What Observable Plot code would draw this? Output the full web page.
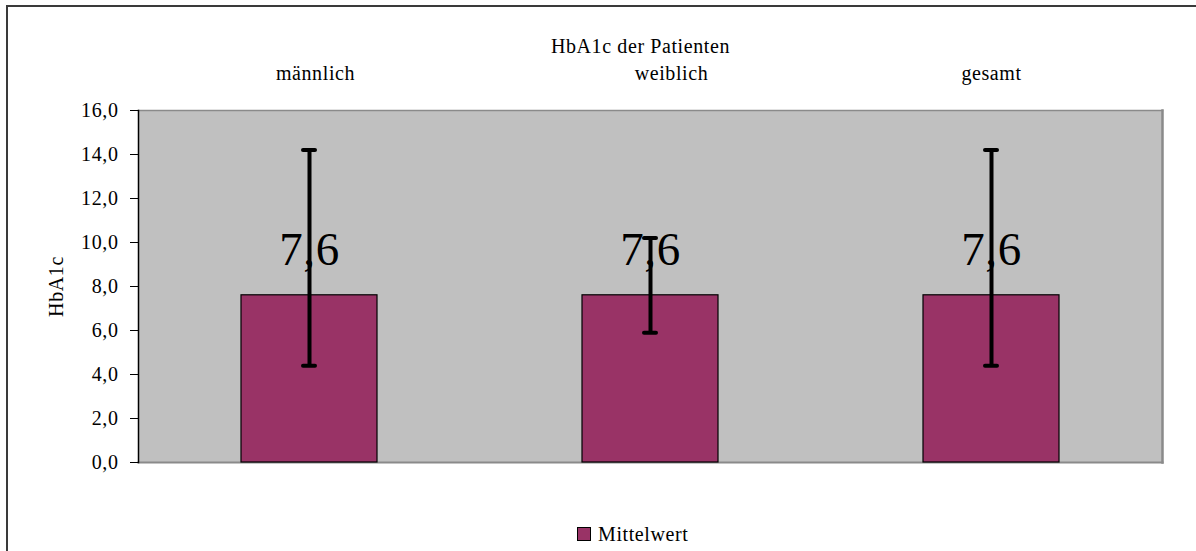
<!DOCTYPE html>
<html><head><meta charset="utf-8">
<script src="https://cdn.jsdelivr.net/npm/d3@7"></script>
<script src="https://cdn.jsdelivr.net/npm/@observablehq/plot@0.6"></script>
<style>
html,body{margin:0;padding:0;background:#fff;}
#wrap{position:relative;width:1196px;height:551px;overflow:hidden;font-family:"Liberation Serif",serif;}
#border{position:absolute;left:6px;top:5px;width:1400px;height:800px;border:2px solid #3a3a3a;box-sizing:border-box;}
#chart{position:absolute;left:0;top:0;}
#legend-sw{position:absolute;left:577px;top:527px;width:12px;height:12px;background:#993366;border:1px solid #000;}
#legend-tx{position:absolute;left:598px;top:524px;font-size:20px;line-height:20px;letter-spacing:0.6px;color:#000;white-space:nowrap;}
</style></head>
<body>
<div id="wrap">
  <div id="border"></div>
  <div id="chart"></div>
  <div id="legend-sw"></div>
  <div id="legend-tx"></div>
</div>
<script>
const categories = ["männlich", "weiblich", "gesamt"];
const means = [7.6, 7.6, 7.6];
const lower = [4.4, 5.9, 4.4];
const upper = [14.2, 10.2, 14.2];
const yTicks = [0, 2, 4, 6, 8, 10, 12, 14, 16];
const chartTitle = "HbA1c der Patienten";
const yLabel = "HbA1c";
const seriesName = "Mittelwert";

// layout: small horizontal nudges of the top category labels (pixels)
const layout = {catLabelNudge: [6, 21, 0]};

const data = categories.map((c, i) => ({cat: c, mean: means[i], lo: lower[i], hi: upper[i]}));
const fmt = d => d.toFixed(1).replace(".", ",");

const chart = Plot.plot({
  width: 1196, height: 551,
  marginLeft: 138, marginRight: 34, marginTop: 110, marginBottom: 89,
  style: {fontFamily: "'Liberation Serif', serif", fontSize: "20px", background: "transparent", letterSpacing: "0.6px", color: "#000"},
  x: {domain: categories, paddingInner: 0.6, paddingOuter: 0.3, axis: null},
  y: {domain: [0, 16], axis: null},
  marks: [
    Plot.frame({fill: "#c0c0c0"}),
    Plot.frame({anchor: "top", stroke: "#8a8a8a", strokeWidth: 1.5}),
    Plot.frame({anchor: "right", stroke: "#8a8a8a", strokeWidth: 2.5}),
    Plot.frame({anchor: "bottom", stroke: "#8a8a8a", strokeWidth: 2}),
    Plot.axisY({ticks: yTicks, tickFormat: fmt, tickSize: 8, tickPadding: 12, label: null, stroke: "#000", fill: "#000"}),
    Plot.frame({anchor: "left", stroke: "#000", strokeWidth: 1.5}),
    Plot.barY(data, {x: "cat", y: "mean", fill: "#993366", stroke: "#000", strokeWidth: 1.2}),
    Plot.text(data, {x: "cat", y: "mean", text: d => fmt(d.mean), fontSize: 47, dy: -45, lineAnchor: "middle", fill: "#000", letterSpacing: "0px"}),
    Plot.ruleX(data, {x: "cat", y1: "lo", y2: "hi", stroke: "#000", strokeWidth: 4}),
    Plot.tickY(data, {x: "cat", y: "lo", stroke: "#000", strokeWidth: 4, strokeLinecap: "round", insetLeft: 62, insetRight: 62}),
    Plot.tickY(data, {x: "cat", y: "hi", stroke: "#000", strokeWidth: 4, strokeLinecap: "round", insetLeft: 62, insetRight: 62}),
    ...categories.map((c, i) => Plot.text([c], {x: d => d, frameAnchor: "top", dy: -31, dx: layout.catLabelNudge[i], lineAnchor: "bottom", fill: "#000"})),
    Plot.text([chartTitle], {frameAnchor: "top", dy: -64, dx: -10, lineAnchor: "middle", fill: "#000"}),
    Plot.text([yLabel], {frameAnchor: "left", rotate: -90, dx: -82, textAnchor: "middle", lineAnchor: "middle", fill: "#000"})
  ]
});
document.getElementById("chart").appendChild(chart);
document.getElementById("legend-tx").textContent = seriesName;
</script>
</body></html>
